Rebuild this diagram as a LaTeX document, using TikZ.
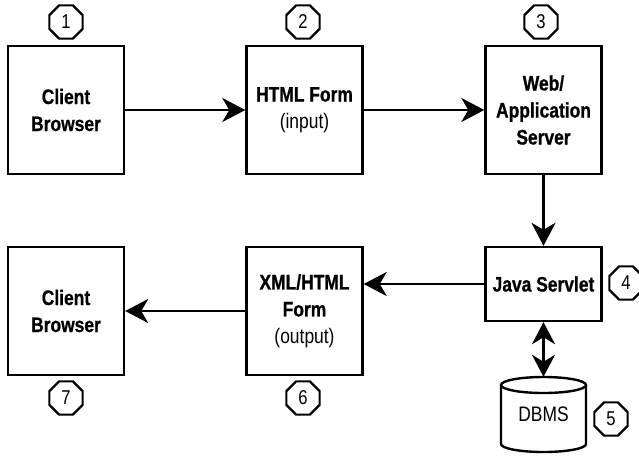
\documentclass[tikz,border=0pt]{standalone}
\usepackage{fontspec}
\setmainfont{Liberation Sans}[FakeStretch=0.83, BoldFeatures={FakeStretch=0.83, FakeBold=0.8}]
\usetikzlibrary{arrows.meta,shapes.geometric}
\tikzset{
  boxnode/.style={draw, line width=2.4pt, minimum width=116pt, minimum height=128pt, align=center, font=\fontsize{21}{27}\selectfont\bfseries, inner sep=0pt},
  octnum/.style={draw, line width=2.2pt, regular polygon, regular polygon sides=8, minimum size=36pt, inner sep=0pt, font=\fontsize{20}{20}\selectfont},
  conn/.style={line width=2.6pt, -{Stealth[length=23pt,width=24pt,inset=7pt]}},
  bconn/.style={line width=2.6pt, {Stealth[length=22pt,width=23pt,inset=7pt]}-{Stealth[length=22pt,width=23pt,inset=7pt]}},
}
\begin{document}
\begin{tikzpicture}[x=1pt,y=-1pt]
\useasboundingbox (0,0) rectangle (639,456);
\node[boxnode] (cb1) at (66,110) {Client\\Browser};
\node[boxnode] (form) at (304.5,110) {HTML Form\\{\mdseries (input)}};
\node[boxnode] (web) at (543.5,110) {Web/\\Application\\Server};
\node[boxnode, minimum height=74pt] (servlet) at (543.5,284) {Java Servlet};
\node[boxnode] (xml) at (304.5,311) {XML/HTML\\Form\\{\mdseries (output)}};
\node[boxnode] (cb7) at (66,311) {Client\\Browser};
% DBMS cylinder
\node[minimum width=85pt, minimum height=75pt, inner sep=0pt, font=\fontsize{21}{27}\selectfont\mdseries] (db) at (543.5,414.5) {\raisebox{-6pt}{DBMS}};
\draw[line width=2.4pt] (501,385) -- (501,444) arc[start angle=180, end angle=360, x radius=42.5pt, y radius=8pt] -- (586,385);
\draw[line width=2.4pt] (543.5,385) ellipse[x radius=42.5pt, y radius=8pt];
% numbers
\node[octnum] (n1) at (66,22) {1};
\node[octnum] (n2) at (303,22) {2};
\node[octnum] (n3) at (541,22) {3};
\node[octnum] (n4) at (626,283) {4};
\node[octnum] (n5) at (611,419) {5};
\node[octnum] (n6) at (303,398) {6};
\node[octnum] (n7) at (66,398) {7};
% connectors
\draw[conn] (cb1) -- (form);
\draw[conn] (form) -- (web);
\draw[conn] (web) -- (servlet);
\draw[conn] (servlet.west) -- (xml.east |- servlet.west);
\draw[conn] (xml) -- (cb7);
\draw[bconn] (servlet.south) -- (db.north);
\end{tikzpicture}
\end{document}
